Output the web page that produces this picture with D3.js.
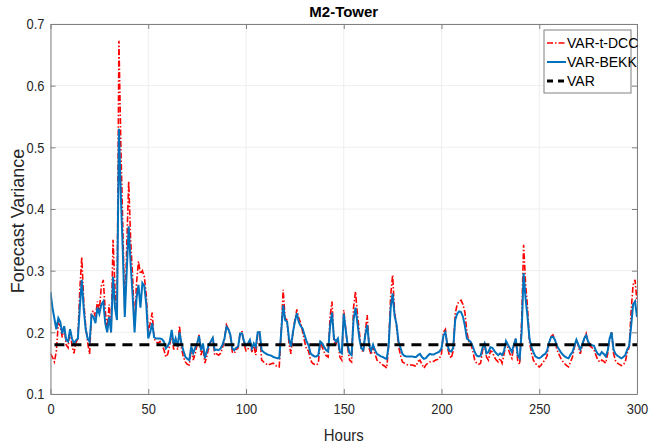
<!DOCTYPE html>
<html>
<head>
<meta charset="utf-8">
<script src="https://cdn.jsdelivr.net/npm/d3@7"></script>
<style>
  html, body { margin: 0; padding: 0; background: #fff; }
  svg { display: block; font-family: "Liberation Sans", Arial, sans-serif; }
</style>
</head>
<body>
<svg id="chart" width="649" height="446"></svg>
<script>
// Hourly forecast variance for the M2 tower, three models.
const hours = d3.range(0, 301);

const varTDcc = [
  0.165,0.160,0.152,0.170,0.215,0.210,0.192,0.210,0.180,0.175,
  0.205,0.178,0.166,0.183,0.190,0.270,0.322,0.250,0.210,0.183,
  0.165,0.232,0.235,0.225,0.250,0.235,0.275,0.285,0.235,0.205,
  0.245,0.200,0.350,0.270,0.222,0.673,0.500,0.370,0.230,0.340,
  0.445,0.350,0.290,0.210,0.280,0.315,0.295,0.300,0.290,0.260,
  0.200,0.215,0.232,0.190,0.185,0.182,0.185,0.180,0.172,0.160,
  0.165,0.180,0.198,0.172,0.185,0.172,0.210,0.174,0.160,0.152,
  0.148,0.147,0.175,0.155,0.165,0.180,0.196,0.163,0.175,0.150,
  0.162,0.176,0.185,0.190,0.163,0.165,0.163,0.166,0.175,0.190,
  0.212,0.205,0.194,0.168,0.166,0.172,0.175,0.200,0.201,0.182,
  0.170,0.172,0.185,0.168,0.178,0.163,0.198,0.200,0.155,0.152,
  0.150,0.147,0.148,0.149,0.150,0.147,0.144,0.144,0.200,0.269,
  0.223,0.220,0.182,0.165,0.200,0.220,0.237,0.223,0.215,0.200,
  0.185,0.172,0.170,0.155,0.150,0.148,0.147,0.150,0.185,0.176,
  0.168,0.162,0.160,0.225,0.250,0.185,0.180,0.190,0.160,0.155,
  0.236,0.206,0.175,0.155,0.152,0.240,0.266,0.230,0.200,0.172,
  0.168,0.200,0.228,0.174,0.164,0.176,0.165,0.155,0.152,0.150,
  0.147,0.145,0.142,0.180,0.260,0.293,0.233,0.210,0.178,0.163,
  0.152,0.150,0.148,0.147,0.147,0.147,0.146,0.145,0.153,0.155,
  0.148,0.142,0.147,0.150,0.152,0.152,0.153,0.155,0.156,0.158,
  0.165,0.200,0.205,0.176,0.163,0.158,0.170,0.230,0.245,0.250,
  0.252,0.245,0.232,0.200,0.185,0.182,0.170,0.155,0.150,0.148,
  0.150,0.170,0.182,0.160,0.155,0.170,0.168,0.160,0.155,0.152,
  0.158,0.150,0.165,0.185,0.175,0.165,0.158,0.178,0.190,0.153,
  0.148,0.220,0.342,0.280,0.240,0.185,0.167,0.155,0.150,0.146,
  0.144,0.147,0.152,0.155,0.162,0.183,0.193,0.196,0.188,0.172,
  0.165,0.158,0.153,0.149,0.146,0.144,0.152,0.160,0.176,0.188,
  0.178,0.165,0.178,0.190,0.198,0.182,0.178,0.175,0.172,0.163,
  0.155,0.152,0.155,0.153,0.150,0.165,0.190,0.200,0.166,0.154,
  0.150,0.148,0.146,0.147,0.152,0.167,0.176,0.235,0.277,0.285,
  0.250
];

const varBekk = [
  0.265,0.240,0.222,0.205,0.223,0.217,0.198,0.210,0.188,0.185,
  0.205,0.190,0.182,0.187,0.190,0.240,0.285,0.238,0.205,0.190,
  0.185,0.228,0.225,0.215,0.240,0.230,0.245,0.250,0.215,0.200,
  0.225,0.200,0.290,0.240,0.220,0.530,0.420,0.330,0.225,0.300,
  0.372,0.310,0.260,0.200,0.255,0.277,0.240,0.280,0.275,0.245,
  0.190,0.200,0.215,0.192,0.190,0.190,0.190,0.189,0.185,0.174,
  0.178,0.185,0.204,0.180,0.190,0.177,0.200,0.182,0.170,0.160,
  0.157,0.155,0.177,0.166,0.175,0.182,0.194,0.171,0.182,0.158,
  0.170,0.180,0.185,0.191,0.171,0.172,0.171,0.174,0.180,0.190,
  0.209,0.205,0.196,0.174,0.171,0.175,0.177,0.198,0.198,0.185,
  0.179,0.182,0.188,0.174,0.182,0.176,0.200,0.200,0.171,0.168,
  0.166,0.164,0.163,0.162,0.160,0.159,0.158,0.158,0.200,0.244,
  0.220,0.217,0.190,0.177,0.200,0.217,0.231,0.217,0.210,0.206,
  0.195,0.185,0.179,0.166,0.163,0.161,0.161,0.163,0.185,0.182,
  0.176,0.171,0.169,0.210,0.232,0.190,0.185,0.190,0.169,0.166,
  0.230,0.204,0.179,0.166,0.163,0.220,0.240,0.215,0.190,0.174,
  0.171,0.195,0.212,0.179,0.170,0.180,0.171,0.165,0.163,0.161,
  0.160,0.158,0.157,0.180,0.240,0.263,0.227,0.213,0.185,0.175,
  0.165,0.162,0.161,0.161,0.161,0.161,0.160,0.160,0.163,0.165,
  0.160,0.157,0.158,0.162,0.165,0.164,0.164,0.166,0.167,0.169,
  0.174,0.195,0.200,0.180,0.170,0.169,0.175,0.220,0.230,0.234,
  0.233,0.225,0.210,0.190,0.187,0.184,0.177,0.168,0.162,0.161,
  0.162,0.175,0.182,0.166,0.168,0.176,0.175,0.170,0.166,0.163,
  0.166,0.163,0.170,0.186,0.180,0.174,0.168,0.180,0.190,0.163,
  0.158,0.200,0.296,0.255,0.225,0.190,0.176,0.168,0.161,0.159,
  0.158,0.160,0.163,0.165,0.170,0.183,0.192,0.193,0.188,0.178,
  0.173,0.168,0.164,0.161,0.159,0.158,0.164,0.168,0.178,0.188,
  0.180,0.172,0.180,0.190,0.195,0.185,0.180,0.179,0.178,0.170,
  0.165,0.163,0.168,0.165,0.161,0.170,0.190,0.200,0.172,0.165,
  0.162,0.160,0.158,0.160,0.163,0.172,0.178,0.210,0.245,0.250,
  0.225
];

// Constant VAR forecast variance
const varLevel = [0.18, 0.18];
const varHours = [2, 300];

const xTicks = [0, 50, 100, 150, 200, 250, 300];
const yTicks = [0.1, 0.2, 0.3, 0.4, 0.5, 0.6, 0.7];

const seriesNames = ["VAR-t-DCC", "VAR-BEKK", "VAR"];
const seriesColors = ["#ff0000", "#0072bd", "#000000"];

const svg = d3.select("#chart");
const margin = { left: 50.5, top: 24, right: 12, bottom: 52 };
const W = 649, H = 446;
const iw = W - margin.left - margin.right;
const ih = H - margin.top - margin.bottom;

const x = d3.scaleLinear().domain([0, 300]).range([0, iw]);
const y = d3.scaleLinear().domain([0.1, 0.7]).range([ih, 0]);

const g = svg.append("g").attr("transform", `translate(${margin.left},${margin.top})`);

// grid
g.append("g").selectAll("line").data(xTicks).join("line")
  .attr("x1", d => x(d)).attr("x2", d => x(d)).attr("y1", 0).attr("y2", ih)
  .attr("stroke", "#eeeeee").attr("stroke-width", 1);
g.append("g").selectAll("line").data(yTicks).join("line")
  .attr("x1", 0).attr("x2", iw).attr("y1", d => y(d)).attr("y2", d => y(d))
  .attr("stroke", "#eeeeee").attr("stroke-width", 1);

svg.append("clipPath").attr("id", "plotclip")
  .append("rect").attr("width", iw).attr("height", ih);

const plot = g.append("g").attr("clip-path", "url(#plotclip)");

const line = d3.line().x((d, i) => x(hours[i])).y(d => y(d));

plot.append("path").datum(varTDcc)
  .attr("fill", "none").attr("stroke", seriesColors[0]).attr("stroke-width", 1.6)
  .attr("stroke-dasharray", "6,2,1.5,2")
  .attr("d", line);

plot.append("path").datum(varBekk)
  .attr("fill", "none").attr("stroke", seriesColors[1]).attr("stroke-width", 2)
  .attr("d", line);

plot.append("path").datum(varLevel)
  .attr("fill", "none").attr("stroke", seriesColors[2]).attr("stroke-width", 3)
  .attr("stroke-dasharray", "10,7")
  .attr("d", d3.line().x((d, i) => x(varHours[i])).y(d => y(d)));

// axes (box with inward ticks)
const axisColor = "#808080";
const textColor = "#262626";
function styleAxis(sel) {
  sel.select(".domain").attr("stroke", axisColor);
  sel.selectAll(".tick line").attr("stroke", axisColor);
  sel.selectAll(".tick text").attr("fill", textColor).attr("font-size", 15)
    .attr("transform", "scale(0.86,1)");
}

g.append("g").attr("transform", `translate(0,${ih})`)
  .call(d3.axisBottom(x).tickValues(xTicks).tickSizeInner(-5).tickSizeOuter(0).tickPadding(9).tickFormat(d3.format("d")))
  .call(styleAxis);
g.append("g")
  .call(d3.axisTop(x).tickValues(xTicks).tickSizeInner(-5).tickSizeOuter(0).tickFormat(""))
  .call(styleAxis);
g.append("g")
  .call(d3.axisLeft(y).tickValues(yTicks).tickSizeInner(-5).tickSizeOuter(0).tickPadding(7).tickFormat(d3.format(".1f")))
  .call(styleAxis);
g.append("g").attr("transform", `translate(${iw},0)`)
  .call(d3.axisRight(y).tickValues(yTicks).tickSizeInner(-5).tickSizeOuter(0).tickFormat(""))
  .call(styleAxis);

// title and axis labels
svg.append("text").attr("x", margin.left + iw / 2).attr("y", 17)
  .attr("text-anchor", "middle").attr("font-weight", "bold").attr("font-size", 15)
  .attr("fill", "#000").text("M2-Tower");
svg.append("text")
  .attr("transform", `translate(${margin.left + iw / 2},441) scale(0.88,1)`)
  .attr("text-anchor", "middle").attr("font-size", 17)
  .attr("fill", textColor).text("Hours");
svg.append("text").attr("transform", `translate(24,221) rotate(-90)`)
  .attr("text-anchor", "middle").attr("font-size", 18)
  .attr("fill", textColor).text("Forecast Variance");

// legend
const lg = svg.append("g").attr("transform", "translate(544,30)");
lg.append("rect").attr("width", 87).attr("height", 63)
  .attr("fill", "#fff").attr("stroke", axisColor).attr("stroke-width", 1);
const legendDash = ["6,2,1.5,2", null, "6,5"];
const legendWidth = [1.5, 2, 3];
seriesNames.forEach((name, i) => {
  const yy = 13 + i * 19;
  lg.append("line").attr("x1", 3).attr("x2", 22).attr("y1", yy).attr("y2", yy)
    .attr("stroke", seriesColors[i]).attr("stroke-width", legendWidth[i])
    .attr("stroke-dasharray", legendDash[i]);
  lg.append("text").attr("x", 23).attr("y", yy + 5).attr("font-size", 14)
    .attr("fill", "#000").text(name);
});
</script>
</body>
</html>
